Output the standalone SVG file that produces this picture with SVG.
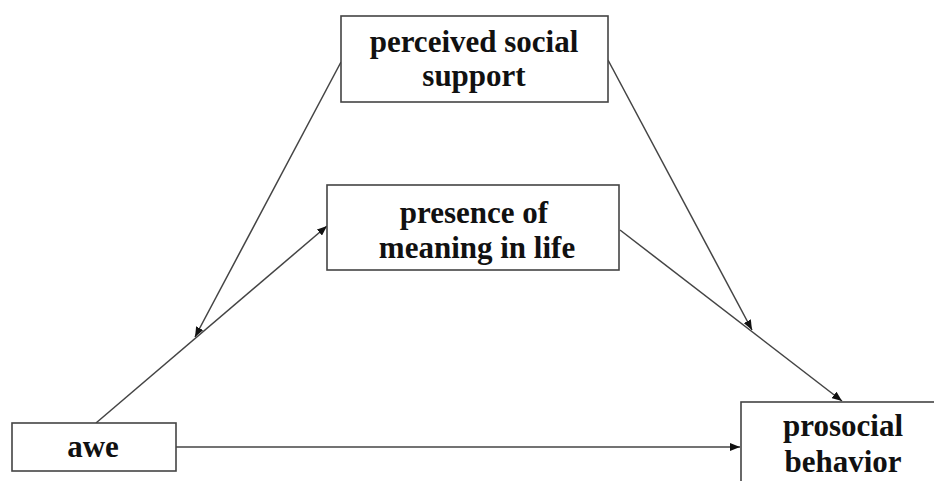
<svg xmlns="http://www.w3.org/2000/svg" width="934" height="481" viewBox="0 0 934 481">
<style>
.box{fill:#fff;stroke:#444;stroke-width:1.6}
.t{font-family:"Liberation Serif","Times New Roman",serif;font-weight:bold;font-size:31px;fill:#111;text-anchor:middle}
.c{stroke:#444;stroke-width:1.5;fill:none;marker-end:url(#ah)}
</style>
<defs>
<marker id="ah" viewBox="0 0 10 8" refX="10" refY="4" markerWidth="10" markerHeight="8" markerUnits="userSpaceOnUse" orient="auto">
<path d="M0,0 L10,4 L0,8 Z" fill="#111"/>
</marker>
</defs>
<rect width="934" height="481" fill="#fff"/>
<g id="connectors">
<line class="c" x1="96" y1="423" x2="327" y2="226"/>
<line class="c" x1="341" y1="62" x2="195" y2="337"/>
<line class="c" x1="608" y1="60" x2="752" y2="330"/>
<line class="c" x1="620" y1="230" x2="842" y2="401"/>
<line class="c" x1="176" y1="447" x2="740" y2="447"/>
</g>
<g id="pss">
<rect class="box" x="341" y="16" width="267" height="86"/>
<text class="t" x="474" y="52">perceived social</text>
<text class="t" x="474" y="86">support</text>
</g>
<g id="meaning">
<rect class="box" x="327" y="185" width="292" height="85"/>
<text class="t" x="474" y="223">presence of</text>
<text class="t" x="477" y="258">meaning in life</text>
</g>
<g id="awe">
<rect class="box" x="12" y="423" width="164" height="48"/>
<text class="t" x="93" y="457">awe</text>
</g>
<g id="prosocial">
<rect class="box" x="741" y="402" width="200" height="100"/>
<text class="t" x="843" y="436">prosocial</text>
<text class="t" x="843" y="472">behavior</text>
</g>
</svg>
